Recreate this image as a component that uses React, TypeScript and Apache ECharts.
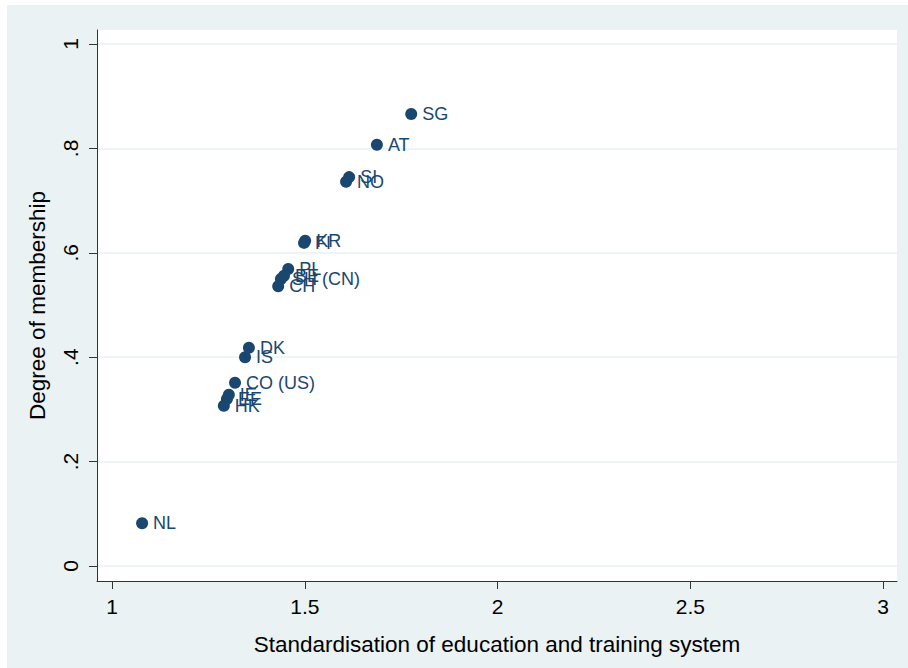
import React, { useEffect, useRef } from "react";
import * as echarts from "echarts";

const countries = ["SG", "AT", "SI", "NO", "KR", "FI", "PL", "BE", "SH (CN)", "CH", "DK", "IS", "CO (US)", "IE", "EE", "HK", "NL"];
const standardisation = [1.776, 1.687, 1.615, 1.607, 1.501, 1.498, 1.457, 1.446, 1.438, 1.431, 1.355, 1.345, 1.319, 1.303, 1.298, 1.29, 1.078];
const membership = [0.866, 0.807, 0.745, 0.736, 0.623, 0.619, 0.569, 0.556, 0.55, 0.536, 0.418, 0.4, 0.351, 0.328, 0.32, 0.307, 0.082];
const xTicks = [1, 1.5, 2, 2.5, 3];
const yTicks = [0, 0.2, 0.4, 0.6, 0.8, 1];

const NAVY = "#1a476f";

export default function App() {
  const ref = useRef<HTMLDivElement>(null);
  useEffect(() => {
    if (!ref.current) return;
    const chart = echarts.init(ref.current, undefined, { renderer: "svg" });
    const fmtY = (v: number) => {
      if (Math.abs(v) < 1e-9) return "0";
      if (Math.abs(v - 1) < 1e-9) return "1";
      return String(Math.round(v * 10) / 10).replace(/^0/, "");
    };
    chart.setOption({
      animation: false,
      backgroundColor: "#EAF2F3",
      textStyle: { fontFamily: "Liberation Sans, Arial, sans-serif" },
      grid: {
        left: 90,
        top: 25,
        right: 11,
        bottom: 87,
        show: true,
        backgroundColor: "#ffffff",
        borderWidth: 0,
      },
      xAxis: {
        type: "value",
        min: 0.961,
        max: 3.036,
        name: "Standardisation of education and training system",
        nameLocation: "middle",
        nameGap: 52,
        nameTextStyle: { fontSize: 22.5, color: "#000" },
        axisLine: { show: true, onZero: false, lineStyle: { color: "#333", width: 1 } },
        axisTick: { show: true, length: 8, customValues: xTicks, lineStyle: { color: "#333" } },
        axisLabel: {
          customValues: xTicks,
          fontSize: 21,
          color: "#000",
          margin: 15,
          formatter: (v: number) => String(v),
        },
        splitLine: { show: false },
      },
      yAxis: {
        type: "value",
        min: -0.0287,
        max: 1.0268,
        name: "Degree of membership",
        nameLocation: "middle",
        nameGap: 48,
        nameTextStyle: { fontSize: 22.5, color: "#000" },
        axisLine: { show: true, onZero: false, lineStyle: { color: "#333", width: 1 } },
        axisTick: { show: true, length: 8, customValues: yTicks, lineStyle: { color: "#333" } },
        axisLabel: {
          customValues: yTicks,
          fontSize: 21,
          color: "#000",
          rotate: 90,
          margin: 16,
          formatter: fmtY,
        },
        splitLine: { show: false },
      },
      series: [
        {
          type: "scatter",
          data: countries.map((c, i) => ({ name: c, value: [standardisation[i], membership[i]] })),
          symbol: "circle",
          symbolSize: 12,
          itemStyle: { color: NAVY, opacity: 1 },
          label: {
            show: true,
            position: "right",
            distance: 5,
            formatter: (p: any) => p.name,
            color: NAVY,
            fontSize: 18,
          },
          markLine: {
            silent: true,
            symbol: "none",
            label: { show: false },
            lineStyle: { color: "#EAF2F3", width: 1.5, type: "solid" },
            z: 0,
            data: yTicks.map((v) => ({ yAxis: v })),
          },
          z: 5,
        },
      ],
    });
    return () => chart.dispose();
  }, []);
  return (
    <div style={{ position: "fixed", left: 0, top: 0, width: 908, height: 668, background: "#fff" }}>
      <div ref={ref} style={{ position: "absolute", left: 7, top: 5, width: 901, height: 663 }} />
    </div>
  );
}
